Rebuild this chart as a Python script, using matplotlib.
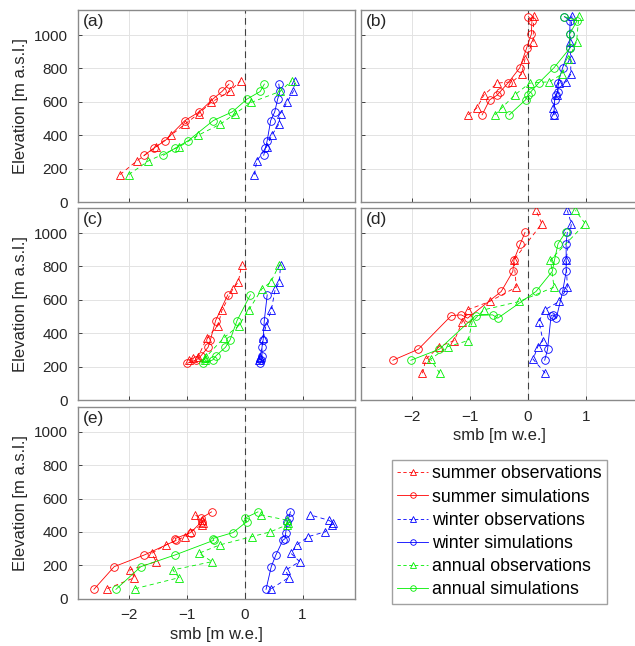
import numpy as np
import matplotlib.pyplot as plt
from matplotlib.lines import Line2D

plt.rcParams['font.family'] = ['Liberation Sans', 'DejaVu Sans']

# (a) 관측/모의 고도와 smb 값
a_obs_z = [164, 246, 330, 400, 466, 530, 596, 662, 726]
a_sum_obs = [-2.15, -1.86, -1.53, -1.27, -1.03, -0.79, -0.58, -0.26, -0.07]
a_win_obs = [0.17, 0.21, 0.38, 0.47, 0.59, 0.62, 0.73, 0.84, 0.87]
a_ann_obs = [-2.0, -1.66, -1.13, -0.80, -0.42, -0.16, 0.11, 0.61, 0.81]
a_sim_z = [280, 322, 368, 488, 540, 616, 662, 706]
a_sum_sim = [-1.73, -1.57, -1.37, -1.03, -0.78, -0.55, -0.39, -0.27]
a_win_sim = [0.33, 0.36, 0.39, 0.45, 0.52, 0.57, 0.61, 0.59]
a_ann_sim = [-1.40, -1.20, -0.97, -0.54, -0.21, 0.04, 0.27, 0.34]

# (b)
b_obs_z = [522, 564, 640, 712, 720, 766, 856, 960, 1116]
b_sum_obs = [-1.03, -0.88, -0.76, -0.53, -0.27, -0.11, -0.05, 0.09, 0.10]
b_win_obs = [0.45, 0.44, 0.50, 0.53, 0.66, 0.74, 0.74, 0.73, 0.76]
b_ann_obs = [-0.57, -0.45, -0.23, 0.03, 0.37, 0.59, 0.70, 0.84, 0.88]
b_sim_z = [522, 612, 640, 660, 714, 804, 924, 1006, 1086, 1110]
b_sum_sim = [-0.79, -0.66, -0.53, -0.48, -0.34, -0.14, -0.02, 0.06, 0.07, 0.01]
b_win_sim = [0.45, 0.46, 0.49, 0.52, 0.52, 0.60, 0.72, 0.72, 0.73, 0.63]
b_ann_sim = [-0.32, -0.04, 0.0, 0.05, 0.19, 0.45, 0.73, 0.72, 0.85, 0.63]

# (c)
c_obs_z = [240, 250, 260, 372, 446, 538, 666, 706, 810]
c_sum_obs = [-0.96, -0.89, -0.80, -0.65, -0.46, -0.39, -0.20, -0.11, -0.05]
c_win_obs = [0.25, 0.26, 0.27, 0.32, 0.37, 0.46, 0.53, 0.60, 0.62]
c_ann_obs = [-0.69, -0.68, -0.66, -0.36, -0.10, 0.07, 0.30, 0.45, 0.60]
c_sim_z = [220, 240, 266, 316, 360, 476, 630]
c_sum_sim = [-0.99, -0.83, -0.75, -0.63, -0.59, -0.50, -0.29]
c_win_sim = [0.27, 0.29, 0.30, 0.30, 0.32, 0.34, 0.39]
c_ann_sim = [-0.71, -0.55, -0.49, -0.33, -0.25, -0.13, 0.10]

# (d)
d_obs_z = [160, 244, 320, 356, 470, 540, 590, 676, 840, 1056, 1136]
d_sum_obs = [-1.82, -1.76, -1.53, -1.27, -1.13, -1.04, -0.66, -0.20, -0.24, 0.24, 0.14]
d_win_obs = [0.30, 0.09, 0.17, 0.26, 0.19, 0.29, 0.54, 0.68, 0.66, 0.75, 0.68]
d_ann_obs = [-1.52, -1.68, -1.38, -1.03, -0.96, -0.76, -0.15, 0.45, 0.39, 0.99, 0.82]
d_sim_z = [238, 304, 506, 510, 490, 650, 770, 840, 936, 1004]
d_sum_sim = [-2.33, -1.89, -1.32, -1.15, -1.04, -0.46, -0.26, -0.24, -0.13, -0.05]
d_win_sim = [0.29, 0.34, 0.40, 0.44, 0.49, 0.60, 0.66, 0.66, 0.66, 0.68]
d_ann_sim = [-2.02, -1.53, -0.90, -0.61, -0.52, 0.14, 0.42, 0.46, 0.52, 0.65]

# (e)
e_obs_z = [60, 126, 172, 222, 272, 322, 372, 400, 442, 456, 470, 502]
e_sum_obs = [-2.37, -1.90, -1.98, -1.53, -1.60, -1.36, -1.03, -0.95, -0.73, -0.72, -0.73, -0.85]
e_win_obs = [0.46, 0.76, 0.71, 0.95, 0.80, 0.90, 1.10, 1.39, 1.50, 1.52, 1.45, 1.13]
e_ann_obs = [-1.89, -1.13, -1.24, -0.56, -0.79, -0.43, 0.13, 0.44, 0.73, 0.75, 0.74, 0.28]
e_sim_z = [56, 192, 262, 350, 360, 396, 462, 482, 520]
e_sum_sim = [-2.60, -2.25, -1.73, -1.18, -1.20, -0.93, -0.74, -0.75, -0.57]
e_win_sim = [0.37, 0.46, 0.54, 0.66, 0.70, 0.71, 0.74, 0.76, 0.79]
e_ann_sim = [-2.22, -1.79, -1.20, -0.53, -0.55, -0.20, 0.04, 0.0, 0.23]

panels = [
    ('(a)', a_obs_z, a_sum_obs, a_win_obs, a_ann_obs, a_sim_z, a_sum_sim, a_win_sim, a_ann_sim),
    ('(b)', b_obs_z, b_sum_obs, b_win_obs, b_ann_obs, b_sim_z, b_sum_sim, b_win_sim, b_ann_sim),
    ('(c)', c_obs_z, c_sum_obs, c_win_obs, c_ann_obs, c_sim_z, c_sum_sim, c_win_sim, c_ann_sim),
    ('(d)', d_obs_z, d_sum_obs, d_win_obs, d_ann_obs, d_sim_z, d_sum_sim, d_win_sim, d_ann_sim),
    ('(e)', e_obs_z, e_sum_obs, e_win_obs, e_ann_obs, e_sim_z, e_sum_sim, e_win_sim, e_ann_sim),
]

x_ticks = [-2, -1, 0, 1]
y_ticks = [0, 200, 400, 600, 800, 1000]
colors = {'summer': '#ff0000', 'winter': '#0000ff', 'annual': '#00ee00'}

W, H = 635, 646
fig = plt.figure(figsize=(W / 100, H / 100), dpi=100)

# 축 위치 (픽셀) : 왼쪽, 위
lefts = [77.7, 361]
tops = [10, 208, 406.7]
aw, ah = 277, 192

lw = 0.6
ms = 5.5

for i, p in enumerate(panels):
    name, oz, so, wo, ao, sz, ss, ws, as_ = p
    col, row = i % 2, i // 2
    ax = fig.add_axes([lefts[col] / W, 1 - (tops[row] + ah) / H, aw / W, ah / H])
    ax.axvline(0, color='#404040', ls=(0, (6, 4)), lw=0.8, zorder=1)
    for key, obs, sim in [('summer', so, ss), ('winter', wo, ws), ('annual', ao, as_)]:
        c = colors[key]
        ax.plot(obs, oz, ls=(0, (5, 4)), color=c, lw=lw, marker='^', ms=ms,
                mfc='none', mec=c, mew=0.6, zorder=3)
        ax.plot(sim, sz, ls='-', color=c, lw=lw, marker='o', ms=ms,
                mfc='none', mec=c, mew=0.6, zorder=3)
    ax.set_xlim(-2.88, 1.9)
    ax.set_ylim(0, 1150)
    ax.set_xticks(x_ticks)
    ax.set_yticks(y_ticks)
    ax.grid(True, color='#e3e3e3', lw=0.7)
    ax.set_axisbelow(True)
    ax.tick_params(direction='in', length=3, width=0.6, colors='#262626',
                   labelsize=11, pad=7)
    for s in ax.spines.values():
        s.set_color('#8a8a8a')
        s.set_linewidth(1.0)
    if col == 1:
        ax.set_yticklabels([])
    else:
        ax.set_ylabel('Elevation [m a.s.l.]', fontsize=12, color='#262626', labelpad=4)
    if name in ['(d)', '(e)']:
        ax.set_xlabel('smb [m w.e.]', fontsize=12, color='#262626', labelpad=3)
    else:
        ax.set_xticklabels([])
    ax.text(0.018, 0.94, name, transform=ax.transAxes, fontsize=12.5,
            ha='left', va='center', color='#262626')

# 범례
handles = []
labels = []
for key in ['summer', 'winter', 'annual']:
    c = colors[key]
    handles.append(Line2D([], [], ls=(0, (4, 3)), color=c, lw=lw, marker='^', ms=4,
                          mfc='none', mec=c, mew=0.6))
    labels.append(key + ' observations')
    handles.append(Line2D([], [], ls='-', color=c, lw=lw, marker='o', ms=4,
                          mfc='none', mec=c, mew=0.6))
    labels.append(key + ' simulations')

leg = fig.legend(handles, labels, loc='upper left', bbox_to_anchor=(391.7 / W, 1 - 460 / H),
                 fontsize=12.8, frameon=True, fancybox=False, handlelength=1.75,
                 handletextpad=0.22, labelspacing=0.35, borderpad=0.3, borderaxespad=0)
leg.get_frame().set_edgecolor('#8a8a8a')
leg.get_frame().set_linewidth(1.0)

plt.savefig('out.png', dpi=100)
